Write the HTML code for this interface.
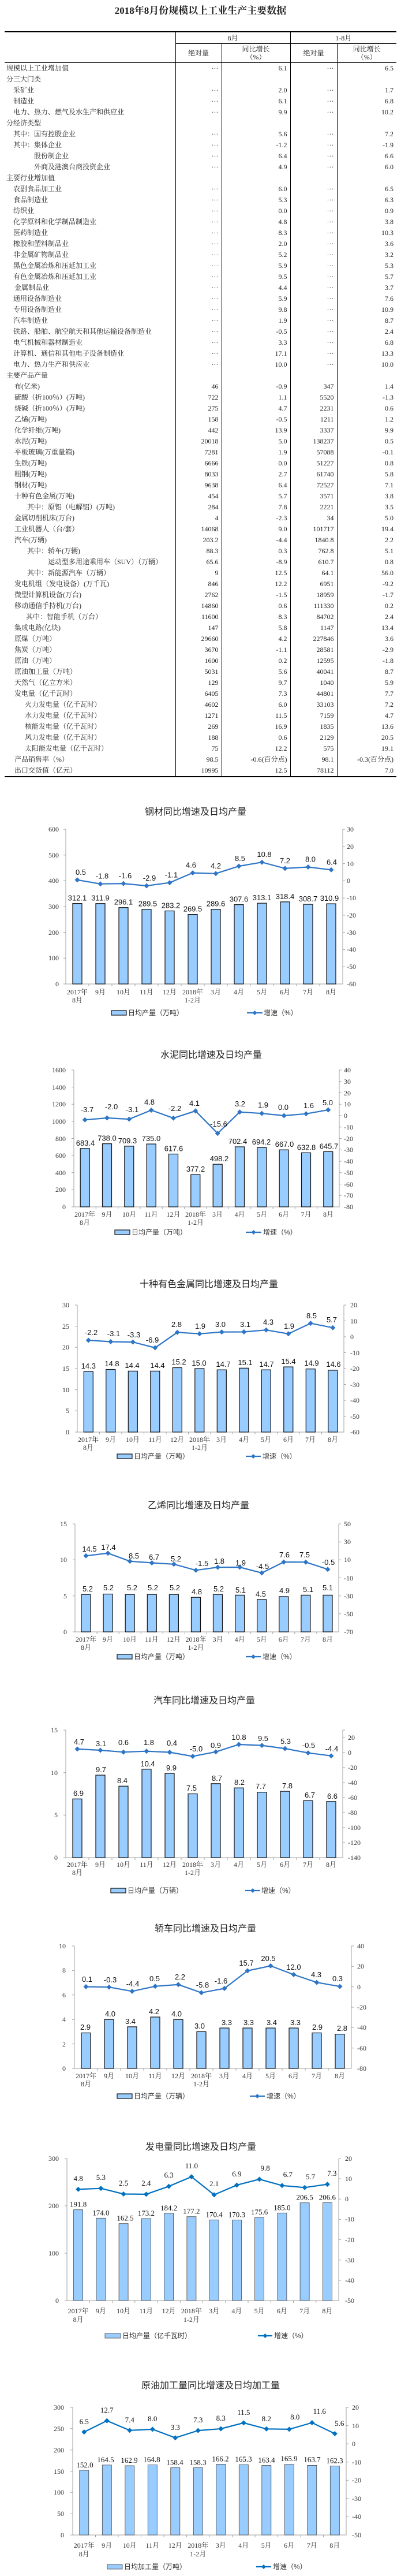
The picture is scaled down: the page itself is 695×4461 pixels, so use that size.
<!DOCTYPE html>
<html><head><meta charset="utf-8">
<style>
html,body{margin:0;padding:0;background:#fff;}
body{width:695px;height:4461px;position:relative;overflow:hidden;}
.ttl{position:absolute;top:4px;left:0;width:695px;text-align:center;font:bold 17px "Liberation Serif","Noto Serif CJK SC",serif;color:#222;}
table{position:absolute;top:54px;left:8px;width:679px;border-collapse:collapse;table-layout:fixed;font:12px "Liberation Serif","Noto Serif CJK SC",serif;color:#222;border-top:2px solid #000;border-bottom:2px solid #000;}
td{height:19px;padding:0;white-space:nowrap;line-height:19px;}
td.n{text-align:right;padding-right:5px;border-left:1px solid #000;}
th{font-weight:normal;border-left:1px solid #000;border-bottom:1px solid #000;padding:0;line-height:14px;}
th.e{border-left:none;}
svg{position:absolute;left:0;top:0;}
.t{font:16px "Liberation Sans","Noto Sans CJK SC",sans-serif;fill:#222;text-anchor:middle;}
.ax{fill:none;stroke:#a0a0a0;stroke-width:1;}
.l{font:12px "Liberation Serif","Noto Serif CJK SC",serif;fill:#333;text-anchor:end;}
.r{font:12px "Liberation Serif","Noto Serif CJK SC",serif;fill:#333;}
.x{font:12px "Liberation Serif","Noto Serif CJK SC",serif;fill:#333;text-anchor:middle;}
.d{font:13px "Liberation Sans",sans-serif;fill:#111;text-anchor:middle;}
.ds{font:13px "Liberation Serif",serif;fill:#111;text-anchor:middle;}
.b rect{fill:#99ccff;stroke:#111;stroke-width:1.2;}
.b2 rect{fill:#99ccff;stroke:#444;stroke-width:0.8;}
.ln{fill:none;stroke:#2e75c6;stroke-width:2.2;marker-start:url(#m);marker-mid:url(#m);marker-end:url(#m);}
.lg{font:12px "Liberation Sans","Noto Sans CJK SC",sans-serif;fill:#333;}
</style></head><body>
<div class="ttl">2018年8月份规模以上工业生产主要数据</div>
<table>
<colgroup><col style="width:296px"><col style="width:80px"><col style="width:119px"><col style="width:81px"><col style="width:103px"></colgroup>
<tr><th class="e" rowspan="2" style="border-bottom:1px solid #000"></th><th colspan="2" style="height:19px">8月</th><th colspan="2">1-8月</th></tr>
<tr><th style="height:32px">绝对量</th><th>同比增长<br>（%）</th><th>绝对量</th><th>同比增长<br>（%）</th></tr>
<tr><td style="padding-left:3px">规模以上工业增加值</td><td class="n">···</td><td class="n">6.1</td><td class="n">···</td><td class="n">6.5</td></tr>
<tr><td style="padding-left:3px">分三大门类</td><td class="n"></td><td class="n"></td><td class="n"></td><td class="n"></td></tr>
<tr><td style="padding-left:15px">采矿业</td><td class="n">···</td><td class="n">2.0</td><td class="n">···</td><td class="n">1.7</td></tr>
<tr><td style="padding-left:15px">制造业</td><td class="n">···</td><td class="n">6.1</td><td class="n">···</td><td class="n">6.8</td></tr>
<tr><td style="padding-left:15px">电力、热力、燃气及水生产和供应业</td><td class="n">···</td><td class="n">9.9</td><td class="n">···</td><td class="n">10.2</td></tr>
<tr><td style="padding-left:3px">分经济类型</td><td class="n"></td><td class="n"></td><td class="n"></td><td class="n"></td></tr>
<tr><td style="padding-left:15px">其中：国有控股企业</td><td class="n">···</td><td class="n">5.6</td><td class="n">···</td><td class="n">7.2</td></tr>
<tr><td style="padding-left:15px">其中：集体企业</td><td class="n">···</td><td class="n">-1.2</td><td class="n">···</td><td class="n">-1.9</td></tr>
<tr><td style="padding-left:51px">股份制企业</td><td class="n">···</td><td class="n">6.4</td><td class="n">···</td><td class="n">6.6</td></tr>
<tr><td style="padding-left:51px">外商及港澳台商投资企业</td><td class="n">···</td><td class="n">4.9</td><td class="n">···</td><td class="n">6.0</td></tr>
<tr><td style="padding-left:3px">主要行业增加值</td><td class="n"></td><td class="n"></td><td class="n"></td><td class="n"></td></tr>
<tr><td style="padding-left:15px">农副食品加工业</td><td class="n">···</td><td class="n">6.0</td><td class="n">···</td><td class="n">6.5</td></tr>
<tr><td style="padding-left:15px">食品制造业</td><td class="n">···</td><td class="n">5.3</td><td class="n">···</td><td class="n">6.3</td></tr>
<tr><td style="padding-left:15px">纺织业</td><td class="n">···</td><td class="n">0.0</td><td class="n">···</td><td class="n">0.9</td></tr>
<tr><td style="padding-left:15px">化学原料和化学制品制造业</td><td class="n">···</td><td class="n">4.8</td><td class="n">···</td><td class="n">3.8</td></tr>
<tr><td style="padding-left:15px">医药制造业</td><td class="n">···</td><td class="n">8.3</td><td class="n">···</td><td class="n">10.3</td></tr>
<tr><td style="padding-left:15px">橡胶和塑料制品业</td><td class="n">···</td><td class="n">2.0</td><td class="n">···</td><td class="n">3.6</td></tr>
<tr><td style="padding-left:15px">非金属矿物制品业</td><td class="n">···</td><td class="n">5.2</td><td class="n">···</td><td class="n">3.2</td></tr>
<tr><td style="padding-left:15px">黑色金属冶炼和压延加工业</td><td class="n">···</td><td class="n">5.9</td><td class="n">···</td><td class="n">5.3</td></tr>
<tr><td style="padding-left:15px">有色金属冶炼和压延加工业</td><td class="n">···</td><td class="n">9.5</td><td class="n">···</td><td class="n">5.7</td></tr>
<tr><td style="padding-left:17px">金属制品业</td><td class="n">···</td><td class="n">4.4</td><td class="n">···</td><td class="n">3.7</td></tr>
<tr><td style="padding-left:15px">通用设备制造业</td><td class="n">···</td><td class="n">5.9</td><td class="n">···</td><td class="n">7.6</td></tr>
<tr><td style="padding-left:15px">专用设备制造业</td><td class="n">···</td><td class="n">9.8</td><td class="n">···</td><td class="n">10.9</td></tr>
<tr><td style="padding-left:15px">汽车制造业</td><td class="n">···</td><td class="n">1.9</td><td class="n">···</td><td class="n">8.7</td></tr>
<tr><td style="padding-left:15px">铁路、船舶、航空航天和其他运输设备制造业</td><td class="n">···</td><td class="n">-0.5</td><td class="n">···</td><td class="n">2.4</td></tr>
<tr><td style="padding-left:15px">电气机械和器材制造业</td><td class="n">···</td><td class="n">3.3</td><td class="n">···</td><td class="n">6.8</td></tr>
<tr><td style="padding-left:15px">计算机、通信和其他电子设备制造业</td><td class="n">···</td><td class="n">17.1</td><td class="n">···</td><td class="n">13.3</td></tr>
<tr><td style="padding-left:15px">电力、热力生产和供应业</td><td class="n">···</td><td class="n">10.0</td><td class="n">···</td><td class="n">10.0</td></tr>
<tr><td style="padding-left:3px">主要产品产量</td><td class="n"></td><td class="n"></td><td class="n"></td><td class="n"></td></tr>
<tr><td style="padding-left:17px">布(亿米)</td><td class="n">46</td><td class="n">-0.9</td><td class="n">347</td><td class="n">1.4</td></tr>
<tr><td style="padding-left:17px">硫酸（折100％）(万吨)</td><td class="n">722</td><td class="n">1.1</td><td class="n">5520</td><td class="n">-1.3</td></tr>
<tr><td style="padding-left:17px">烧碱（折100％）(万吨)</td><td class="n">275</td><td class="n">4.7</td><td class="n">2231</td><td class="n">0.6</td></tr>
<tr><td style="padding-left:17px">乙烯(万吨)</td><td class="n">158</td><td class="n">-0.5</td><td class="n">1211</td><td class="n">1.2</td></tr>
<tr><td style="padding-left:17px">化学纤维(万吨)</td><td class="n">442</td><td class="n">13.9</td><td class="n">3337</td><td class="n">9.9</td></tr>
<tr><td style="padding-left:17px">水泥(万吨)</td><td class="n">20018</td><td class="n">5.0</td><td class="n">138237</td><td class="n">0.5</td></tr>
<tr><td style="padding-left:17px">平板玻璃(万重量箱)</td><td class="n">7281</td><td class="n">1.9</td><td class="n">57088</td><td class="n">-0.1</td></tr>
<tr><td style="padding-left:17px">生铁(万吨)</td><td class="n">6666</td><td class="n">0.0</td><td class="n">51227</td><td class="n">0.8</td></tr>
<tr><td style="padding-left:17px">粗钢(万吨)</td><td class="n">8033</td><td class="n">2.7</td><td class="n">61740</td><td class="n">5.8</td></tr>
<tr><td style="padding-left:17px">钢材(万吨)</td><td class="n">9638</td><td class="n">6.4</td><td class="n">72527</td><td class="n">7.1</td></tr>
<tr><td style="padding-left:17px">十种有色金属(万吨)</td><td class="n">454</td><td class="n">5.7</td><td class="n">3571</td><td class="n">3.8</td></tr>
<tr><td style="padding-left:39px">其中：原铝（电解铝）(万吨)</td><td class="n">284</td><td class="n">7.8</td><td class="n">2221</td><td class="n">3.5</td></tr>
<tr><td style="padding-left:17px">金属切削机床(万台)</td><td class="n">4</td><td class="n">-2.3</td><td class="n">34</td><td class="n">5.0</td></tr>
<tr><td style="padding-left:17px">工业机器人（台/套）</td><td class="n">14068</td><td class="n">9.0</td><td class="n">101717</td><td class="n">19.4</td></tr>
<tr><td style="padding-left:17px">汽车(万辆)</td><td class="n">203.2</td><td class="n">-4.4</td><td class="n">1840.8</td><td class="n">2.2</td></tr>
<tr><td style="padding-left:39px">其中：轿车(万辆)</td><td class="n">88.3</td><td class="n">0.3</td><td class="n">762.8</td><td class="n">5.1</td></tr>
<tr><td style="padding-left:75px">运动型多用途乘用车（SUV）（万辆）</td><td class="n">65.6</td><td class="n">-8.9</td><td class="n">610.7</td><td class="n">0.8</td></tr>
<tr><td style="padding-left:39px">其中：新能源汽车（万辆）</td><td class="n">9</td><td class="n">12.5</td><td class="n">64.1</td><td class="n">56.0</td></tr>
<tr><td style="padding-left:17px">发电机组（发电设备）(万千瓦)</td><td class="n">846</td><td class="n">12.2</td><td class="n">6951</td><td class="n">-9.2</td></tr>
<tr><td style="padding-left:17px">微型计算机设备(万台)</td><td class="n">2762</td><td class="n">-1.5</td><td class="n">18959</td><td class="n">-1.7</td></tr>
<tr><td style="padding-left:17px">移动通信手持机(万台)</td><td class="n">14860</td><td class="n">0.6</td><td class="n">111330</td><td class="n">0.2</td></tr>
<tr><td style="padding-left:37px">其中：智能手机（万台）</td><td class="n">11600</td><td class="n">8.3</td><td class="n">84702</td><td class="n">2.4</td></tr>
<tr><td style="padding-left:17px">集成电路(亿块)</td><td class="n">147</td><td class="n">5.8</td><td class="n">1147</td><td class="n">13.4</td></tr>
<tr><td style="padding-left:17px">原煤（万吨）</td><td class="n">29660</td><td class="n">4.2</td><td class="n">227846</td><td class="n">3.6</td></tr>
<tr><td style="padding-left:17px">焦炭（万吨）</td><td class="n">3670</td><td class="n">-1.1</td><td class="n">28581</td><td class="n">-2.9</td></tr>
<tr><td style="padding-left:17px">原油（万吨）</td><td class="n">1600</td><td class="n">0.2</td><td class="n">12595</td><td class="n">-1.8</td></tr>
<tr><td style="padding-left:17px">原油加工量（万吨）</td><td class="n">5031</td><td class="n">5.6</td><td class="n">40041</td><td class="n">8.7</td></tr>
<tr><td style="padding-left:17px">天然气（亿立方米）</td><td class="n">129</td><td class="n">9.7</td><td class="n">1040</td><td class="n">5.9</td></tr>
<tr><td style="padding-left:17px">发电量（亿千瓦时）</td><td class="n">6405</td><td class="n">7.3</td><td class="n">44801</td><td class="n">7.7</td></tr>
<tr><td style="padding-left:35px">火力发电量（亿千瓦时）</td><td class="n">4602</td><td class="n">6.0</td><td class="n">33103</td><td class="n">7.2</td></tr>
<tr><td style="padding-left:35px">水力发电量（亿千瓦时）</td><td class="n">1271</td><td class="n">11.5</td><td class="n">7159</td><td class="n">4.7</td></tr>
<tr><td style="padding-left:35px">核能发电量（亿千瓦时）</td><td class="n">269</td><td class="n">16.9</td><td class="n">1835</td><td class="n">13.6</td></tr>
<tr><td style="padding-left:35px">风力发电量（亿千瓦时）</td><td class="n">188</td><td class="n">0.6</td><td class="n">2129</td><td class="n">20.5</td></tr>
<tr><td style="padding-left:35px">太阳能发电量（亿千瓦时）</td><td class="n">75</td><td class="n">12.2</td><td class="n">575</td><td class="n">19.1</td></tr>
<tr><td style="padding-left:17px">产品销售率（%）</td><td class="n">98.5</td><td class="n">-0.6(百分点)</td><td class="n">98.1</td><td class="n">-0.3(百分点)</td></tr>
<tr><td style="padding-left:17px">出口交货值（亿元）</td><td class="n">10995</td><td class="n">12.5</td><td class="n">78112</td><td class="n">7.0</td></tr>
</table>

<svg width="695" height="4461" viewBox="0 0 695 4461">
<defs>
<marker id="m" markerWidth="9" markerHeight="9" refX="4.5" refY="4.5" markerUnits="userSpaceOnUse"><path d="M4.5 0L9 4.5L4.5 9L0 4.5Z" fill="#2e75c6"/></marker>
<marker id="m2" markerWidth="9" markerHeight="9" refX="4.5" refY="4.5" markerUnits="userSpaceOnUse"><path d="M4.5 0L9 4.5L4.5 9L0 4.5Z" fill="#0070c0"/></marker>
</defs>

<!-- Chart 1 钢材 -->
<text class="t" x="339" y="1411">钢材同比增速及日均产量</text>
<path class="ax" d="M114 1436V1704H594V1436M110 1704h4M110 1659.3h4M110 1614.7h4M110 1570h4M110 1525.3h4M110 1480.7h4M110 1436h4M594 1674.2h4M594 1644.4h4M594 1614.7h4M594 1584.9h4M594 1555.1h4M594 1525.3h4M594 1495.6h4M594 1465.8h4M594 1436h4M154 1704v4M194 1704v4M234 1704v4M274 1704v4M314 1704v4M354 1704v4M394 1704v4M434 1704v4M474 1704v4M514 1704v4M554 1704v4"/>
<g class="l"><text x="102" y="1708">0</text><text x="102" y="1663">100</text><text x="102" y="1619">200</text><text x="102" y="1574">300</text><text x="102" y="1529">400</text><text x="102" y="1485">500</text><text x="102" y="1440">600</text></g>
<g class="r"><text x="601" y="1708">-60</text><text x="601" y="1678">-50</text><text x="601" y="1648">-40</text><text x="601" y="1619">-30</text><text x="601" y="1589">-20</text><text x="601" y="1559">-10</text><text x="601" y="1529">0</text><text x="601" y="1500">10</text><text x="601" y="1470">20</text><text x="601" y="1440">30</text></g>
<g class="b" transform="translate(0,1704) scale(1,-1)"><rect x="126" y="0" width="16" height="139.4"/><rect x="166" y="0" width="16" height="139.3"/><rect x="206" y="0" width="16" height="132.3"/><rect x="246" y="0" width="16" height="129.3"/><rect x="286" y="0" width="16" height="126.5"/><rect x="326" y="0" width="16" height="120.4"/><rect x="366" y="0" width="16" height="129.4"/><rect x="406" y="0" width="16" height="137.4"/><rect x="446" y="0" width="16" height="139.9"/><rect x="486" y="0" width="16" height="142.2"/><rect x="526" y="0" width="16" height="137.9"/><rect x="566" y="0" width="16" height="138.9"/></g>
<g class="d"><text x="134" y="1559.6">312.1</text><text x="174" y="1559.7">311.9</text><text x="214" y="1566.7">296.1</text><text x="256" y="1569.7">289.5</text><text x="296" y="1572.5">283.2</text><text x="334" y="1578.6">269.5</text><text x="374" y="1569.6">289.6</text><text x="414" y="1561.6">307.6</text><text x="454" y="1559.1">313.1</text><text x="494" y="1556.8">318.4</text><text x="534" y="1561.1">308.7</text><text x="571" y="1560.1">310.9</text></g>
<polyline class="ln" points="134,1523.8 174,1530.7 214,1530.1 254,1534 294,1528.6 334,1511.6 374,1512.8 414,1500 454,1493.2 494,1503.9 534,1501.5 574,1506.3"/>
<g class="d"><text x="140" y="1561" dy="-46">0.5</text><text x="177" y="1521.7">-1.8</text><text x="217" y="1521.1">-1.6</text><text x="259" y="1525">-2.9</text><text x="297" y="1519.6">-1.1</text><text x="331" y="1502.6">4.6</text><text x="374" y="1503.8">4.2</text><text x="416" y="1491">8.5</text><text x="458" y="1484.2">10.8</text><text x="494" y="1494.9">7.2</text><text x="538" y="1492.5">8.0</text><text x="575" y="1497.3">6.4</text></g>
<g class="x"><text x="134" y="1722">2017年</text><text x="134" y="1736">8月</text><text x="174" y="1722">9月</text><text x="214" y="1722">10月</text><text x="254" y="1722">11月</text><text x="294" y="1722">12月</text><text x="334" y="1722">2018年</text><text x="334" y="1736">1-2月</text><text x="374" y="1722">3月</text><text x="414" y="1722">4月</text><text x="454" y="1722">5月</text><text x="494" y="1722">6月</text><text x="534" y="1722">7月</text><text x="574" y="1722">8月</text></g>
<rect x="193" y="1750" width="26" height="8" fill="#99ccff" stroke="#111" stroke-width="1.2"/><text class="lg" x="222" y="1758">日均产量（万吨）</text>
<line x1="428" y1="1754" x2="455" y2="1754" stroke="#2e75c6" stroke-width="2.2" marker-mid="url(#m)"/><path d="M441.5 1750L445.5 1754L441.5 1758L437.5 1754Z" fill="#2e75c6"/><text class="lg" x="457" y="1758">增速（%）</text>

<!-- Chart 2 水泥 -->
<text class="t" x="366" y="1832">水泥同比增速及日均产量</text>
<path class="ax" d="M128 1853V2090H588V1853M124 2090h4M124 2060.4h4M124 2030.8h4M124 2001.1h4M124 1971.5h4M124 1941.9h4M124 1912.3h4M124 1882.6h4M124 1853h4M588 2070.3h4M588 2050.5h4M588 2030.8h4M588 2011h4M588 1991.3h4M588 1971.5h4M588 1951.8h4M588 1932h4M588 1912.3h4M588 1892.5h4M588 1872.8h4M588 1853h4M166.3 2090v4M204.7 2090v4M243 2090v4M281.3 2090v4M319.7 2090v4M358 2090v4M396.3 2090v4M434.7 2090v4M473 2090v4M511.3 2090v4M549.7 2090v4"/>
<g class="l"><text x="114" y="2094">0</text><text x="114" y="2064">200</text><text x="114" y="2035">400</text><text x="114" y="2005">600</text><text x="114" y="1976">800</text><text x="114" y="1946">1000</text><text x="114" y="1916">1200</text><text x="114" y="1887">1400</text><text x="114" y="1857">1600</text></g>
<g class="r"><text x="596" y="2094">-80</text><text x="596" y="2074">-70</text><text x="596" y="2055">-60</text><text x="596" y="2035">-50</text><text x="596" y="2015">-40</text><text x="596" y="1995">-30</text><text x="596" y="1976">-20</text><text x="596" y="1956">-10</text><text x="596" y="1936">0</text><text x="596" y="1916">10</text><text x="596" y="1897">20</text><text x="596" y="1877">30</text><text x="596" y="1857">40</text></g>
<g class="b" transform="translate(0,2090) scale(1,-1)"><rect x="139.2" y="0" width="16" height="101.2"/><rect x="177.5" y="0" width="16" height="109.3"/><rect x="215.8" y="0" width="16" height="105.1"/><rect x="254.2" y="0" width="16" height="108.9"/><rect x="292.5" y="0" width="16" height="91.5"/><rect x="330.8" y="0" width="16" height="55.9"/><rect x="369.2" y="0" width="16" height="73.8"/><rect x="407.5" y="0" width="16" height="104"/><rect x="445.8" y="0" width="16" height="102.8"/><rect x="484.2" y="0" width="16" height="98.8"/><rect x="522.5" y="0" width="16" height="93.7"/><rect x="560.8" y="0" width="16" height="95.6"/></g>
<g class="d"><text x="148" y="1983.8">683.4</text><text x="185.5" y="1975.7">738.0</text><text x="221" y="1979.9">709.3</text><text x="262" y="1976.1">735.0</text><text x="301" y="1993.5">617.6</text><text x="339" y="2029.1">377.2</text><text x="380" y="2011.2">498.2</text><text x="412" y="1981">702.4</text><text x="453" y="1982.2">694.2</text><text x="493" y="1986.2">667.0</text><text x="531" y="1991.3">632.8</text><text x="570" y="1989.4">645.7</text></g>
<polyline class="ln" points="147.2,1939.3 185.5,1936 223.8,1938.1 262.2,1922.5 300.5,1936.3 338.8,1923.9 377.2,1962.8 415.5,1925.7 453.8,1928.2 492.2,1932 530.5,1928.8 568.8,1922.1"/>
<g class="d"><text x="151" y="1926">-3.7</text><text x="193" y="1921">-2.0</text><text x="229" y="1926">-3.1</text><text x="259" y="1913">4.8</text><text x="303" y="1924">-2.2</text><text x="337" y="1915">4.1</text><text x="379" y="1951">-15.6</text><text x="416" y="1916">3.2</text><text x="456" y="1918">1.9</text><text x="491" y="1922">0.0</text><text x="535" y="1919">1.6</text><text x="568" y="1914">5.0</text></g>
<g class="x"><text x="147" y="2107">2017年</text><text x="147" y="2121">8月</text><text x="185.5" y="2107">9月</text><text x="224" y="2107">10月</text><text x="262" y="2107">11月</text><text x="300.5" y="2107">12月</text><text x="339" y="2107">2018年</text><text x="339" y="2121">1-2月</text><text x="377" y="2107">3月</text><text x="415.5" y="2107">4月</text><text x="454" y="2107">5月</text><text x="492" y="2107">6月</text><text x="530.5" y="2107">7月</text><text x="569" y="2107">8月</text></g>
<rect x="199" y="2130" width="26" height="8" fill="#99ccff" stroke="#111" stroke-width="1.2"/><text class="lg" x="228" y="2138">日均产量（万吨）</text>
<line x1="426" y1="2134" x2="453" y2="2134" stroke="#2e75c6" stroke-width="2.2"/><path d="M439.5 2130L443.5 2134L439.5 2138L435.5 2134Z" fill="#2e75c6"/><text class="lg" x="456" y="2138">增速（%）</text>

<!-- Chart 3 十种有色金属 -->
<text class="t" x="362" y="2229">十种有色金属同比增速及日均产量</text>
<path class="ax" d="M134 2260V2480H596V2260M130 2480h4M130 2443.3h4M130 2406.7h4M130 2370h4M130 2333.3h4M130 2296.7h4M130 2260h4M596 2452.5h4M596 2425h4M596 2397.5h4M596 2370h4M596 2342.5h4M596 2315h4M596 2287.5h4M596 2260h4M172.5 2480v4M211 2480v4M249.5 2480v4M288 2480v4M326.5 2480v4M365 2480v4M403.5 2480v4M442 2480v4M480.5 2480v4M519 2480v4M557.5 2480v4"/>
<g class="l"><text x="120" y="2484">0</text><text x="120" y="2447">5</text><text x="120" y="2411">10</text><text x="120" y="2374">15</text><text x="120" y="2337">20</text><text x="120" y="2301">25</text><text x="120" y="2264">30</text></g>
<g class="r"><text x="607" y="2484">-60</text><text x="607" y="2457">-50</text><text x="607" y="2429">-40</text><text x="607" y="2402">-30</text><text x="607" y="2374">-20</text><text x="607" y="2347">-10</text><text x="607" y="2319">0</text><text x="607" y="2292">10</text><text x="607" y="2264">20</text></g>
<g class="b" transform="translate(0,2480) scale(1,-1)"><rect x="145.3" y="0" width="16" height="104.9"/><rect x="183.8" y="0" width="16" height="108.5"/><rect x="222.3" y="0" width="16" height="105.6"/><rect x="260.8" y="0" width="16" height="105.6"/><rect x="299.3" y="0" width="16" height="111.5"/><rect x="337.8" y="0" width="16" height="110"/><rect x="376.3" y="0" width="16" height="107.8"/><rect x="414.8" y="0" width="16" height="110.7"/><rect x="453.3" y="0" width="16" height="107.8"/><rect x="491.8" y="0" width="16" height="112.9"/><rect x="530.3" y="0" width="16" height="109.3"/><rect x="568.8" y="0" width="16" height="107.1"/></g>
<g class="d"><text x="153.3" y="2370">14.3</text><text x="194" y="2366">14.8</text><text x="229" y="2369">14.4</text><text x="273" y="2369">14.4</text><text x="310" y="2363">15.2</text><text x="345" y="2365">15.0</text><text x="387" y="2367">14.7</text><text x="425" y="2364">15.1</text><text x="462" y="2367">14.7</text><text x="500" y="2362">15.4</text><text x="540" y="2365">14.9</text><text x="578" y="2367">14.6</text></g>
<polyline class="ln" points="153.3,2321 191.8,2323.5 230.3,2324.1 268.8,2334 307.3,2307.3 345.8,2309.8 384.3,2306.7 422.8,2306.5 461.3,2303.2 499.8,2309.8 538.3,2291.6 576.8,2299.3"/>
<g class="d"><text x="158" y="2312">-2.2</text><text x="197" y="2314">-3.1</text><text x="232" y="2316">-3.3</text><text x="264" y="2325">-6.9</text><text x="306" y="2298">2.8</text><text x="347" y="2301">1.9</text><text x="382" y="2298">3.0</text><text x="425" y="2298">3.1</text><text x="465" y="2294">4.3</text><text x="501" y="2301">1.9</text><text x="540" y="2283">8.5</text><text x="575" y="2290">5.7</text></g>
<g class="x"><text x="153" y="2497">2017年</text><text x="153" y="2511">8月</text><text x="192" y="2497">9月</text><text x="230" y="2497">10月</text><text x="269" y="2497">11月</text><text x="307" y="2497">12月</text><text x="346" y="2497">2018年</text><text x="346" y="2511">1-2月</text><text x="384" y="2497">3月</text><text x="423" y="2497">4月</text><text x="461" y="2497">5月</text><text x="500" y="2497">6月</text><text x="538" y="2497">7月</text><text x="577" y="2497">8月</text></g>
<rect x="203" y="2518" width="26" height="8" fill="#99ccff" stroke="#111" stroke-width="1.2"/><text class="lg" x="232" y="2526">日均产量（万吨）</text>
<line x1="426" y1="2522" x2="452" y2="2522" stroke="#2e75c6" stroke-width="2.2"/><path d="M439 2518L443 2522L439 2526L435 2522Z" fill="#2e75c6"/><text class="lg" x="455" y="2526">增速（%）</text>

<!-- Chart 4 乙烯 -->
<text class="t" x="344" y="2612">乙烯同比增速及日均产量</text>
<path class="ax" d="M130 2639V2826H587V2639M126 2826h4M126 2763.7h4M126 2701.3h4M126 2639h4M587 2794.8h4M587 2763.7h4M587 2732.5h4M587 2701.3h4M587 2670.2h4M587 2639h4M168.1 2826v4M206.2 2826v4M244.3 2826v4M282.3 2826v4M320.4 2826v4M358.5 2826v4M396.6 2826v4M434.7 2826v4M472.8 2826v4M510.8 2826v4M548.9 2826v4"/>
<g class="l"><text x="116" y="2830">0</text><text x="116" y="2768">5</text><text x="116" y="2705">10</text><text x="116" y="2643">15</text></g>
<g class="r"><text x="596" y="2830">-70</text><text x="596" y="2799">-50</text><text x="596" y="2768">-30</text><text x="596" y="2737">-10</text><text x="596" y="2705">10</text><text x="596" y="2674">30</text><text x="596" y="2643">50</text></g>
<g class="b" transform="translate(0,2826) scale(1,-1)"><rect x="141" y="0" width="16" height="64.8"/><rect x="179.1" y="0" width="16" height="65.5"/><rect x="217.2" y="0" width="16" height="64.8"/><rect x="255.3" y="0" width="16" height="64.8"/><rect x="293.4" y="0" width="16" height="64.8"/><rect x="331.5" y="0" width="16" height="59.8"/><rect x="369.5" y="0" width="16" height="64.8"/><rect x="407.6" y="0" width="16" height="63.6"/><rect x="445.7" y="0" width="16" height="56.1"/><rect x="483.8" y="0" width="16" height="61.1"/><rect x="521.9" y="0" width="16" height="63.6"/><rect x="560" y="0" width="16" height="63.6"/></g>
<g class="d"><text x="152" y="2756">5.2</text><text x="188" y="2754">5.2</text><text x="229" y="2754">5.2</text><text x="265" y="2754">5.2</text><text x="303" y="2754">5.2</text><text x="341" y="2761">4.8</text><text x="379" y="2756">5.2</text><text x="417" y="2758">5.1</text><text x="452" y="2765">4.5</text><text x="493" y="2759">4.9</text><text x="534" y="2757">5.1</text><text x="568" y="2754">5.1</text></g>
<polyline class="ln" points="149,2694.3 187.1,2689.8 225.2,2703.7 263.3,2706.5 301.4,2708.8 339.5,2719.3 377.5,2714.1 415.6,2714 453.7,2723.9 491.8,2705.1 529.9,2705.2 568,2717.7"/>
<g class="d"><text x="155" y="2687">14.5</text><text x="188" y="2684">17.4</text><text x="232" y="2699">8.5</text><text x="267" y="2701">6.7</text><text x="305" y="2704">5.2</text><text x="350" y="2712">-1.5</text><text x="380" y="2708">1.8</text><text x="417" y="2711">1.9</text><text x="455" y="2717">-4.5</text><text x="493" y="2697">7.6</text><text x="528" y="2697">7.5</text><text x="569" y="2710">-0.5</text></g>
<g class="x"><text x="149" y="2843">2017年</text><text x="149" y="2857">8月</text><text x="187" y="2843">9月</text><text x="225" y="2843">10月</text><text x="263" y="2843">11月</text><text x="301" y="2843">12月</text><text x="339.5" y="2843">2018年</text><text x="339.5" y="2857">1-2月</text><text x="377.5" y="2843">3月</text><text x="415.6" y="2843">4月</text><text x="453.7" y="2843">5月</text><text x="491.8" y="2843">6月</text><text x="529.9" y="2843">7月</text><text x="568" y="2843">8月</text></g>
<rect x="203" y="2865" width="26" height="8" fill="#99ccff" stroke="#111" stroke-width="1.2"/><text class="lg" x="232" y="2873">日均产量（万吨）</text>
<line x1="426" y1="2869" x2="452" y2="2869" stroke="#2e75c6" stroke-width="2.2"/><path d="M439 2865L443 2869L439 2873L435 2869Z" fill="#2e75c6"/><text class="lg" x="455" y="2873">增速（%）</text>

<!-- Chart 5 汽车 -->
<text class="t" x="354" y="2950">汽车同比增速及日均产量</text>
<path class="ax" d="M114 2996V3217H594V2996M110 3217h4M110 3143.3h4M110 3069.7h4M110 2996h4M594 3191h4M594 3165h4M594 3139h4M594 3113h4M594 3087h4M594 3061h4M594 3035h4M594 3009h4M594 2996h4M154 3217v4M194 3217v4M234 3217v4M274 3217v4M314 3217v4M354 3217v4M394 3217v4M434 3217v4M474 3217v4M514 3217v4M554 3217v4"/>
<g class="l"><text x="100" y="3221">0</text><text x="100" y="3147">5</text><text x="100" y="3074">10</text><text x="100" y="3000">15</text></g>
<g class="r"><text x="603" y="3221">-140</text><text x="603" y="3195">-120</text><text x="603" y="3169">-100</text><text x="603" y="3143">-80</text><text x="603" y="3117">-60</text><text x="603" y="3091">-40</text><text x="603" y="3065">-20</text><text x="603" y="3039">0</text><text x="603" y="3013">20</text></g>
<g class="b" transform="translate(0,3217) scale(1,-1)"><rect x="126" y="0" width="16" height="101.7"/><rect x="166" y="0" width="16" height="142.9"/><rect x="206" y="0" width="16" height="123.8"/><rect x="246" y="0" width="16" height="153.2"/><rect x="286" y="0" width="16" height="145.9"/><rect x="326" y="0" width="16" height="110.5"/><rect x="366" y="0" width="16" height="128.2"/><rect x="406" y="0" width="16" height="120.8"/><rect x="446" y="0" width="16" height="113.4"/><rect x="486" y="0" width="16" height="114.9"/><rect x="526" y="0" width="16" height="98.7"/><rect x="566" y="0" width="16" height="97.2"/></g>
<g class="d"><text x="136" y="3110">6.9</text><text x="175" y="3069">9.7</text><text x="212" y="3088">8.4</text><text x="256" y="3059">10.4</text><text x="297" y="3066">9.9</text><text x="332" y="3101">7.5</text><text x="376" y="3084">8.7</text><text x="415" y="3091">8.2</text><text x="452" y="3098">7.7</text><text x="498" y="3097">7.8</text><text x="537" y="3113">6.7</text><text x="576" y="3115">6.6</text></g>
<polyline class="ln" points="134,3028.9 174,3031 214,3034.2 254,3032.7 294,3034.5 334,3041.5 374,3033.8 414,3021 454,3022.6 494,3028.1 534,3035.6 574,3040.7"/>
<g class="d"><text x="137" y="3021">4.7</text><text x="175" y="3024">3.1</text><text x="214" y="3022">0.6</text><text x="258" y="3022">1.8</text><text x="298" y="3023">0.4</text><text x="340" y="3033">-5.0</text><text x="374" y="3027">0.9</text><text x="414" y="3013">10.8</text><text x="456" y="3015">9.5</text><text x="495" y="3020">5.3</text><text x="535" y="3027">-0.5</text><text x="575" y="3033">-4.4</text></g>
<g class="x"><text x="134" y="3233">2017年</text><text x="134" y="3247">8月</text><text x="174" y="3233">9月</text><text x="214" y="3233">10月</text><text x="254" y="3233">11月</text><text x="294" y="3233">12月</text><text x="334" y="3233">2018年</text><text x="334" y="3247">1-2月</text><text x="374" y="3233">3月</text><text x="414" y="3233">4月</text><text x="454" y="3233">5月</text><text x="494" y="3233">6月</text><text x="534" y="3233">7月</text><text x="574" y="3233">8月</text></g>
<rect x="192" y="3270" width="26" height="8" fill="#99ccff" stroke="#111" stroke-width="1.2"/><text class="lg" x="221" y="3278">日均产量（万辆）</text>
<line x1="425" y1="3274" x2="451" y2="3274" stroke="#2e75c6" stroke-width="2.2"/><path d="M438 3270L442 3274L438 3278L434 3274Z" fill="#2e75c6"/><text class="lg" x="453" y="3278">增速（%）</text>

<!-- Chart 6 轿车 -->
<text class="t" x="356" y="3345">轿车同比增速及日均产量</text>
<path class="ax" d="M129 3370V3582H609V3370M125 3582h4M125 3539.6h4M125 3497.2h4M125 3454.8h4M125 3412.4h4M125 3370h4M609 3546.7h4M609 3511.3h4M609 3476h4M609 3440.7h4M609 3405.3h4M609 3370h4M169 3582v4M209 3582v4M249 3582v4M289 3582v4M329 3582v4M369 3582v4M409 3582v4M449 3582v4M489 3582v4M529 3582v4M569 3582v4"/>
<g class="l"><text x="114" y="3586">0</text><text x="114" y="3544">2</text><text x="114" y="3501">4</text><text x="114" y="3459">6</text><text x="114" y="3416">8</text><text x="114" y="3374">10</text></g>
<g class="r"><text x="619" y="3586">-80</text><text x="619" y="3551">-60</text><text x="619" y="3515">-40</text><text x="619" y="3480">-20</text><text x="619" y="3445">0</text><text x="619" y="3409">20</text><text x="619" y="3374">40</text></g>
<g class="b" transform="translate(0,3582) scale(1,-1)"><rect x="141" y="0" width="16" height="61.5"/><rect x="181" y="0" width="16" height="84.8"/><rect x="221" y="0" width="16" height="72.1"/><rect x="261" y="0" width="16" height="89"/><rect x="301" y="0" width="16" height="84.8"/><rect x="341" y="0" width="16" height="63.6"/><rect x="381" y="0" width="16" height="70"/><rect x="421" y="0" width="16" height="70"/><rect x="461" y="0" width="16" height="70"/><rect x="501" y="0" width="16" height="70"/><rect x="541" y="0" width="16" height="61.5"/><rect x="581" y="0" width="16" height="59.4"/></g>
<g class="d"><text x="148" y="3515">2.9</text><text x="191" y="3492">4.0</text><text x="226" y="3505">3.4</text><text x="267" y="3488">4.2</text><text x="306" y="3492">4.0</text><text x="346" y="3513">3.0</text><text x="393" y="3507">3.3</text><text x="431" y="3507">3.3</text><text x="471" y="3507">3.4</text><text x="512" y="3507">3.3</text><text x="550" y="3515">2.9</text><text x="593" y="3517">2.8</text></g>
<polyline class="ln" points="149,3440.5 189,3441.2 229,3448.4 269,3439.8 309,3436.8 349,3450.9 389,3443.5 429,3412.9 469,3404.4 509,3419.5 549,3433.1 589,3440.1"/>
<g class="d"><text x="151" y="3432">0.1</text><text x="191" y="3433">-0.3</text><text x="230" y="3440">-4.4</text><text x="268" y="3431">0.5</text><text x="312" y="3428">2.2</text><text x="351" y="3442">-5.8</text><text x="383" y="3435">-1.6</text><text x="427" y="3404">15.7</text><text x="465" y="3396">20.5</text><text x="509" y="3411">12.0</text><text x="548" y="3424">4.3</text><text x="585" y="3431">0.3</text></g>
<g class="x"><text x="149" y="3599">2017年</text><text x="149" y="3613">8月</text><text x="189" y="3599">9月</text><text x="229" y="3599">10月</text><text x="269" y="3599">11月</text><text x="309" y="3599">12月</text><text x="349" y="3599">2018年</text><text x="349" y="3613">1-2月</text><text x="389" y="3599">3月</text><text x="429" y="3599">4月</text><text x="469" y="3599">5月</text><text x="509" y="3599">6月</text><text x="549" y="3599">7月</text><text x="589" y="3599">8月</text></g>
<rect x="203" y="3626" width="26" height="8" fill="#99ccff" stroke="#111" stroke-width="1.2"/><text class="lg" x="232" y="3634">日均产量（万辆）</text>
<line x1="433" y1="3630" x2="459" y2="3630" stroke="#2e75c6" stroke-width="2.2"/><path d="M446 3626L450 3630L446 3634L442 3630Z" fill="#2e75c6"/><text class="lg" x="462" y="3634">增速（%）</text>

<!-- Chart 7 发电量 -->
<text class="t" x="348" y="3723">发电量同比增速及日均产量</text>
<path class="ax" d="M116 3738V3984H587V3738M112 3984h4M112 3902h4M112 3820h4M112 3738h4M587 3948.9h4M587 3913.7h4M587 3878.6h4M587 3843.4h4M587 3808.3h4M587 3773.1h4M587 3738h4M155.3 3984v4M194.5 3984v4M233.8 3984v4M273 3984v4M312.3 3984v4M351.5 3984v4M390.8 3984v4M430 3984v4M469.3 3984v4M508.5 3984v4M547.8 3984v4"/>
<g class="l"><text x="102" y="3988">0</text><text x="102" y="3906">100</text><text x="102" y="3824">200</text><text x="102" y="3742">300</text></g>
<g class="r"><text x="598" y="3988">-50</text><text x="598" y="3953">-40</text><text x="598" y="3918">-30</text><text x="598" y="3883">-20</text><text x="598" y="3847">-10</text><text x="598" y="3812">0</text><text x="598" y="3777">10</text><text x="598" y="3742">20</text></g>
<g class="b2" transform="translate(0,3984) scale(1,-1)"><rect x="127.6" y="0" width="16" height="157.3"/><rect x="166.9" y="0" width="16" height="142.7"/><rect x="206.1" y="0" width="16" height="133.3"/><rect x="245.4" y="0" width="16" height="142"/><rect x="284.6" y="0" width="16" height="151"/><rect x="323.9" y="0" width="16" height="145.3"/><rect x="363.1" y="0" width="16" height="139.7"/><rect x="402.4" y="0" width="16" height="139.6"/><rect x="441.6" y="0" width="16" height="144"/><rect x="480.9" y="0" width="16" height="151.7"/><rect x="520.1" y="0" width="16" height="169.3"/><rect x="559.4" y="0" width="16" height="169.4"/></g>
<g class="ds"><text x="135.6" y="3821.7">191.8</text><text x="174.9" y="3836.3">174.0</text><text x="217" y="3845.7">162.5</text><text x="253.4" y="3837">173.2</text><text x="292.6" y="3828">184.2</text><text x="331.9" y="3833.7">177.2</text><text x="371.1" y="3839.3">170.4</text><text x="410.4" y="3839.4">170.3</text><text x="449.6" y="3835">175.6</text><text x="488.9" y="3827.3">185.0</text><text x="528.1" y="3809.7">206.5</text><text x="567.4" y="3809.6">206.6</text></g>
<polyline class="ln" style="stroke:#0070c0;marker-start:url(#m2);marker-mid:url(#m2);marker-end:url(#m2)" points="135.6,3791.4 174.9,3789.7 214.1,3799.5 253.4,3799.9 292.6,3786.2 331.9,3769.6 371.1,3800.9 410.4,3784.1 449.6,3773.9 488.9,3784.8 528.1,3788.3 567.4,3782.6"/>
<g class="ds"><text x="135.6" y="3777">4.8</text><text x="174.9" y="3775">5.3</text><text x="214.1" y="3785">2.5</text><text x="253.4" y="3785">2.4</text><text x="292.6" y="3771">6.3</text><text x="331.9" y="3755">11.0</text><text x="371.1" y="3786">2.1</text><text x="410.4" y="3769">6.9</text><text x="459.6" y="3759">9.8</text><text x="498.9" y="3770">6.7</text><text x="538.1" y="3774">5.7</text><text x="575.4" y="3768">7.3</text></g>
<g class="x"><text x="135.6" y="4006">2017年</text><text x="135.6" y="4021">8月</text><text x="174.9" y="4006">9月</text><text x="214.1" y="4006">10月</text><text x="253.4" y="4006">11月</text><text x="292.6" y="4006">12月</text><text x="331.9" y="4006">2018年</text><text x="331.9" y="4021">1-2月</text><text x="371.1" y="4006">3月</text><text x="410.4" y="4006">4月</text><text x="449.6" y="4006">5月</text><text x="488.9" y="4006">6月</text><text x="528.1" y="4006">7月</text><text x="567.4" y="4006">8月</text></g>
<rect x="182" y="4041" width="27" height="8" fill="#99ccff" stroke="#444" stroke-width="0.8"/><text class="lg" x="212" y="4049">日均产量（亿千瓦时）</text>
<line x1="447" y1="4045" x2="472" y2="4045" stroke="#0070c0" stroke-width="2.2"/><path d="M459.5 4041L463.5 4045L459.5 4049L455.5 4045Z" fill="#0070c0"/><text class="lg" x="475" y="4049">增速（%）</text>

<!-- Chart 8 原油加工量 -->
<text class="t" x="365" y="4136">原油加工量同比增速及日均加工量</text>
<path class="ax" d="M126 4169V4390H600V4169M122 4390h4M122 4353.2h4M122 4316.3h4M122 4279.5h4M122 4242.7h4M122 4205.8h4M122 4169h4M600 4358.4h4M600 4326.9h4M600 4295.3h4M600 4263.7h4M600 4232.1h4M600 4200.6h4M600 4169h4M165.5 4390v4M205 4390v4M244.5 4390v4M284 4390v4M323.5 4390v4M363 4390v4M402.5 4390v4M442 4390v4M481.5 4390v4M521 4390v4M560.5 4390v4"/>
<g class="l"><text x="111" y="4394">0</text><text x="111" y="4357">50</text><text x="111" y="4320">100</text><text x="111" y="4284">150</text><text x="111" y="4247">200</text><text x="111" y="4210">250</text><text x="111" y="4173">300</text></g>
<g class="r"><text x="610" y="4394">-50</text><text x="610" y="4362">-40</text><text x="610" y="4331">-30</text><text x="610" y="4299">-20</text><text x="610" y="4268">-10</text><text x="610" y="4236">0</text><text x="610" y="4205">10</text><text x="610" y="4173">20</text></g>
<g class="b2" transform="translate(0,4390) scale(1,-1)"><rect x="137.8" y="0" width="16" height="112"/><rect x="177.3" y="0" width="16" height="121.2"/><rect x="216.8" y="0" width="16" height="120"/><rect x="256.3" y="0" width="16" height="121.4"/><rect x="295.8" y="0" width="16" height="116.7"/><rect x="335.3" y="0" width="16" height="116.6"/><rect x="374.8" y="0" width="16" height="122.4"/><rect x="414.3" y="0" width="16" height="121.8"/><rect x="453.8" y="0" width="16" height="120.4"/><rect x="493.3" y="0" width="16" height="122.2"/><rect x="532.8" y="0" width="16" height="120.6"/><rect x="572.3" y="0" width="16" height="119.6"/></g>
<g class="ds"><text x="147" y="4273">152.0</text><text x="183" y="4263.8">164.5</text><text x="224" y="4265">162.9</text><text x="263" y="4263.6">164.8</text><text x="303" y="4268.3">158.4</text><text x="343" y="4268.4">158.3</text><text x="382" y="4262.6">166.2</text><text x="422" y="4263.2">165.3</text><text x="462" y="4264.6">163.4</text><text x="501" y="4261.8">165.9</text><text x="541" y="4263.4">163.7</text><text x="580" y="4265.4">162.3</text></g>
<polyline class="ln" style="stroke:#0070c0;marker-start:url(#m2);marker-mid:url(#m2);marker-end:url(#m2)" points="145.8,4211.6 185.3,4192.1 224.8,4208.8 264.3,4206.9 303.8,4221.7 343.3,4209.1 382.8,4206 422.3,4195.8 461.8,4206.3 501.3,4206.9 540.8,4195.5 580.3,4214.5"/>
<g class="ds"><text x="145.8" y="4198">6.5</text><text x="185.3" y="4178">12.7</text><text x="224.8" y="4195">7.4</text><text x="264.3" y="4193">8.0</text><text x="303.8" y="4208">3.3</text><text x="343.3" y="4195">7.3</text><text x="382.8" y="4192">8.3</text><text x="422.3" y="4182">11.5</text><text x="461.8" y="4193">8.2</text><text x="511.3" y="4190">8.0</text><text x="553.8" y="4180">11.6</text><text x="588.3" y="4201">5.6</text></g>
<g class="x"><text x="145.8" y="4412">2017年</text><text x="145.8" y="4427">8月</text><text x="185.3" y="4412">9月</text><text x="224.8" y="4412">10月</text><text x="264.3" y="4412">11月</text><text x="303.8" y="4412">12月</text><text x="343.3" y="4412">2018年</text><text x="343.3" y="4427">1-2月</text><text x="382.8" y="4412">3月</text><text x="422.3" y="4412">4月</text><text x="461.8" y="4412">5月</text><text x="501.3" y="4412">6月</text><text x="540.8" y="4412">7月</text><text x="580.3" y="4412">8月</text></g>
<rect x="186" y="4441" width="26" height="8" fill="#99ccff" stroke="#444" stroke-width="0.8"/><text class="lg" x="215" y="4449">日均加工量（万吨）</text>
<line x1="444" y1="4445" x2="470" y2="4445" stroke="#0070c0" stroke-width="2.2"/><path d="M457 4441L461 4445L457 4449L453 4445Z" fill="#0070c0"/><text class="lg" x="473" y="4449">增速（%）</text>
</svg>
</body></html>
